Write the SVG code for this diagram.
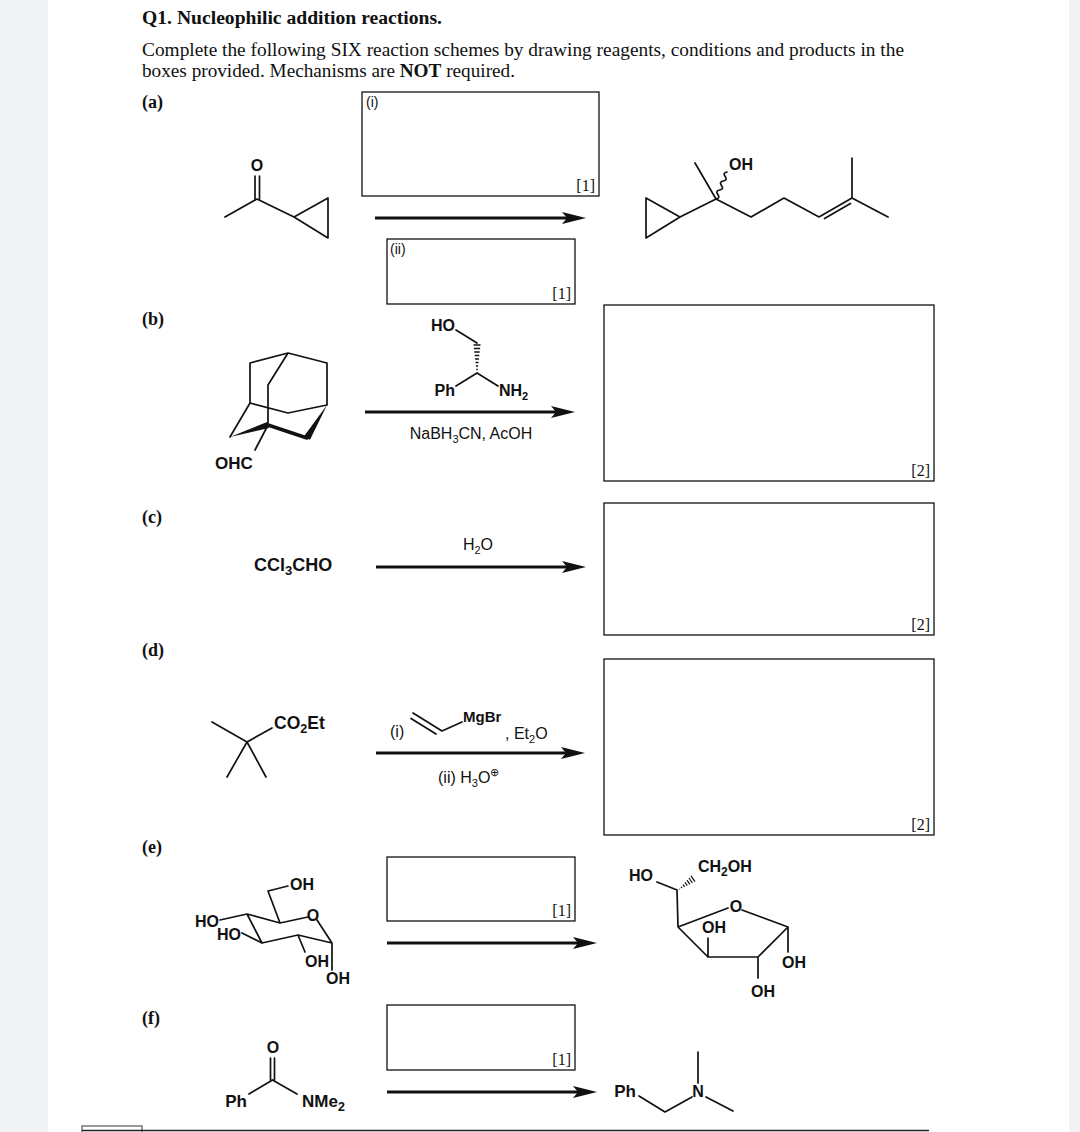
<svg xmlns="http://www.w3.org/2000/svg" width="1080" height="1132" viewBox="0 0 1080 1132">
<defs>
<style>
.hd{font-family:"Liberation Serif",serif;font-size:18px;fill:#111}
.lab{font-family:"Liberation Serif",serif;font-size:18px;font-weight:bold;fill:#111}
.box{fill:none;stroke:#111;stroke-width:1.3}
.bl{font-family:"Liberation Sans",Arial,sans-serif;font-size:14px;fill:#111}
.mk{font-family:"Liberation Serif",serif;font-size:16px;fill:#111}
.b{fill:none;stroke:#111;stroke-width:1.7;stroke-linecap:round;stroke-linejoin:round}
.at{font-family:"Liberation Sans",Arial,sans-serif;font-size:16px;font-weight:bold;fill:#111}
.rt{font-family:"Liberation Sans",Arial,sans-serif;font-size:16px;fill:#111}
.arr{stroke:#111;stroke-width:3;fill:none}
</style>
<marker id="ah" markerUnits="userSpaceOnUse" markerWidth="24" markerHeight="14" refX="12" refY="7" orient="auto">
<path d="M0,1 L24,7 L0,13 L5,7 Z" fill="#111"/>
</marker>
</defs>
<rect x="0" y="0" width="1080" height="1132" fill="#ffffff"/>
<rect x="0" y="0" width="48" height="1132" fill="#f1f2f4"/>
<rect x="1069" y="0" width="11" height="1132" fill="#f1f2f4"/>

<g id="header">
<text class="hd" x="142" y="24" font-weight="bold" textLength="300" lengthAdjust="spacingAndGlyphs">Q1. Nucleophilic addition reactions.</text>
<text class="hd" x="142" y="56" textLength="762" lengthAdjust="spacingAndGlyphs">Complete the following SIX reaction schemes by drawing reagents, conditions and products in the</text>
<text class="hd" x="142" y="77" textLength="373" lengthAdjust="spacingAndGlyphs">boxes provided. Mechanisms are <tspan font-weight="bold">NOT</tspan> required.</text>
</g>

<g id="labels">
<text class="lab" x="142" y="108">(a)</text>
<text class="lab" x="142" y="325">(b)</text>
<text class="lab" x="142" y="523">(c)</text>
<text class="lab" x="142" y="656">(d)</text>
<text class="lab" x="142" y="853">(e)</text>
<text class="lab" x="142" y="1024">(f)</text>
</g>

<g id="boxes">
<g id="box-a1"><rect class="box" x="362" y="92" width="237" height="104"/><text class="bl" x="366" y="107">(i)</text><text class="mk" x="595" y="191" text-anchor="end">[1]</text></g>
<g id="box-a2"><rect class="box" x="387" y="239" width="188" height="65"/><text class="bl" x="390" y="254">(ii)</text><text class="mk" x="571" y="299" text-anchor="end">[1]</text></g>
<g id="box-b"><rect class="box" x="604" y="305" width="330" height="176"/><text class="mk" x="930" y="476" text-anchor="end">[2]</text></g>
<g id="box-c"><rect class="box" x="604" y="503" width="330" height="132"/><text class="mk" x="930" y="630" text-anchor="end">[2]</text></g>
<g id="box-d"><rect class="box" x="604" y="659" width="330" height="176"/><text class="mk" x="930" y="830" text-anchor="end">[2]</text></g>
<g id="box-e"><rect class="box" x="387" y="857" width="188" height="64"/><text class="mk" x="571" y="916" text-anchor="end">[1]</text></g>
<g id="box-f"><rect class="box" x="387" y="1005" width="188" height="65"/><text class="mk" x="571" y="1065" text-anchor="end">[1]</text></g>
</g>

<g id="connectors">
<line class="arr" x1="375" y1="218" x2="574" y2="218" marker-end="url(#ah)"/>
<line class="arr" x1="365" y1="412" x2="563" y2="412" marker-end="url(#ah)"/>
<line class="arr" x1="376" y1="567" x2="574" y2="567" marker-end="url(#ah)"/>
<line class="arr" x1="376" y1="753" x2="573" y2="753" marker-end="url(#ah)"/>
<line class="arr" x1="387" y1="943" x2="585" y2="943" marker-end="url(#ah)"/>
<line class="arr" x1="387" y1="1092" x2="585" y2="1092" marker-end="url(#ah)"/>
</g>

<g id="a-reactant">
<path class="b" d="M225,217 L257,199 L294,217 M294,217 L328,198 L328,238 Z"/>
<path class="b" d="M255,176 L255,199 M259.5,176 L259.5,199"/>
<text class="at" x="257" y="171" text-anchor="middle">O</text>
</g>

<g id="a-product">
<path class="b" d="M646,198 L646,238 L680,217 Z M680,217 L716,199 L751,217 L784,198 L819,217 L852,198 L888,217 M852,198 L852,158 M716,199 L695,163"/>
<path class="b" d="M824.5,218.5 L850.5,203.5"/>
<path class="b" stroke-width="1.3" d="M716,199 Q720.6,198.25 717.83,194.5 Q715.05,190.75 719.67,190 Q724.28,189.25 721.5,185.5 Q718.72,181.75 723.33,181 Q727.95,180.25 725.17,176.5 Q722.38,172.75 727,172"/>
<text class="at" x="741" y="170" text-anchor="middle">OH</text>
</g>

<g id="b-reactant">
<path class="b" d="M288,353 L250,363 L250,403 L230,437 M288,353 L327,363 L327,405 M288,353 L268,385 L268,425 L255,450 M250,403 L288,413 L327,405"/>
<polygon points="230,437 268.9,427.9 267.1,422.1" fill="#111"/>
<line x1="268" y1="425" x2="307" y2="438" stroke="#111" stroke-width="3.5" stroke-linecap="round"/>
<polygon points="327,405 310,439.8 304,436.2" fill="#111"/>
<text class="at" x="234" y="469" text-anchor="middle" style="font-size:17px">OHC</text>
</g>

<g id="b-reagent">
<path class="b" d="M456,330 L477,343 M477,373 L456,386 M477,373 L498,386"/>
<path stroke="#111" stroke-width="1.3" d="M473.5,345 L480.5,345 M473.9,348.5 L480.1,348.5 M474.3,352 L479.7,352 M474.7,355.5 L479.3,355.5 M475.1,359 L478.9,359 M475.5,362.5 L478.5,362.5 M475.9,366 L478.1,366 M476.3,369.5 L477.7,369.5"/>
<text class="at" x="455" y="331" text-anchor="end">HO</text>
<text class="at" x="455" y="396" text-anchor="end">Ph</text>
<text class="at" x="499" y="396">NH<tspan font-size="11" dy="4">2</tspan></text>
<text class="rt" x="471" y="439" text-anchor="middle">NaBH<tspan font-size="11" dy="4">3</tspan><tspan dy="-4">CN, AcOH</tspan></text>
</g>

<g id="c-scheme">
<text class="at" x="254" y="571" style="font-size:18px">CCl<tspan font-size="13" dy="4">3</tspan><tspan dy="-4">CHO</tspan></text>
<text class="rt" x="478" y="550" text-anchor="middle">H<tspan font-size="11" dy="4">2</tspan><tspan dy="-4">O</tspan></text>
</g>

<g id="d-reactant">
<path class="b" d="M212,722 L247,742 L227,777 M247,742 L266,777 M247,742 L272,728"/>
<text class="at" x="274" y="729" style="font-size:17.5px">CO<tspan font-size="12.5" dy="4">2</tspan><tspan dy="-4">Et</tspan></text>
</g>

<g id="d-reagent">
<text class="rt" x="390" y="737">(i)</text>
<path class="b" d="M413,713 L442,731 L462,722 M411,718.5 L436,734"/>
<text class="at" x="463" y="722" style="font-size:15px">MgBr</text>
<text class="rt" x="505" y="739">, Et<tspan font-size="11" dy="4">2</tspan><tspan dy="-4">O</tspan></text>
<text class="rt" x="438" y="783">(ii) H<tspan font-size="11" dy="4">3</tspan><tspan dy="-4">O</tspan><tspan font-size="11" dy="-7">⊕</tspan></text>
</g>

<g id="e-reactant">
<path class="b" d="M288,886 L268,891 L280,923 L308,917 M317,920 L332,943 L332,970 M332,943 L298,935 L305,952 M298,935 L262,943 L242,933 M262,943 L247,914 L220,920 M247,914 L280,923"/>
<text class="at" x="290" y="890">OH</text>
<text class="at" x="313" y="921" text-anchor="middle">O</text>
<text class="at" x="317" y="967" text-anchor="middle">OH</text>
<text class="at" x="338" y="984" text-anchor="middle">OH</text>
<text class="at" x="241" y="940" text-anchor="end">HO</text>
<text class="at" x="219" y="927" text-anchor="end">HO</text>
</g>

<g id="e-product">
<path class="b" d="M657,882 L677,890 L678,927 L728,908 M742,910 L788,927 L788,952 M788,927 L758,957 L758,978 M758,957 L708,957 L708,938 M708,957 L678,927"/>
<path stroke="#111" stroke-width="1.2" d="M679.4,889.5 L679,888.9 M682,888.2 L681,886.8 M684.6,886.9 L683,884.6 M687.2,885.6 L685,882.4 M689.8,884.3 L687,880.2 M692.4,883 L689,878 M695,881.7 L691,875.8"/>
<text class="at" x="653" y="881" text-anchor="end">HO</text>
<text class="at" x="698" y="872">CH<tspan font-size="12" dy="4">2</tspan><tspan dy="-4">OH</tspan></text>
<text class="at" x="736" y="912" text-anchor="middle">O</text>
<text class="at" x="714" y="933" text-anchor="middle">OH</text>
<text class="at" x="794" y="968" text-anchor="middle">OH</text>
<text class="at" x="763" y="997" text-anchor="middle">OH</text>
</g>

<g id="f-reactant">
<path class="b" d="M270.5,1058 L270.5,1080 M274.5,1058 L274.5,1080 M272.5,1080 L249,1094 M272.5,1080 L297,1094"/>
<text class="at" x="273" y="1053" text-anchor="middle">O</text>
<text class="at" x="247" y="1107" text-anchor="end" style="font-size:17px">Ph</text>
<text class="at" x="302" y="1107" style="font-size:17px">NMe<tspan font-size="12.5" dy="4">2</tspan></text>
</g>

<g id="f-product">
<path class="b" d="M639,1096 L665,1112 L692,1097 M698,1083 L698,1052 M706,1097 L733,1111"/>
<text class="at" x="636" y="1097" text-anchor="end" style="font-size:17px">Ph</text>
<text class="at" x="698" y="1097" text-anchor="middle">N</text>
</g>

<g id="footer">
<rect x="82" y="1126" width="60" height="8" fill="#fff" stroke="#555" stroke-width="1.2"/>
<line x1="82" y1="1130.5" x2="929" y2="1130.5" stroke="#222" stroke-width="1.5"/>
</g>
</svg>
